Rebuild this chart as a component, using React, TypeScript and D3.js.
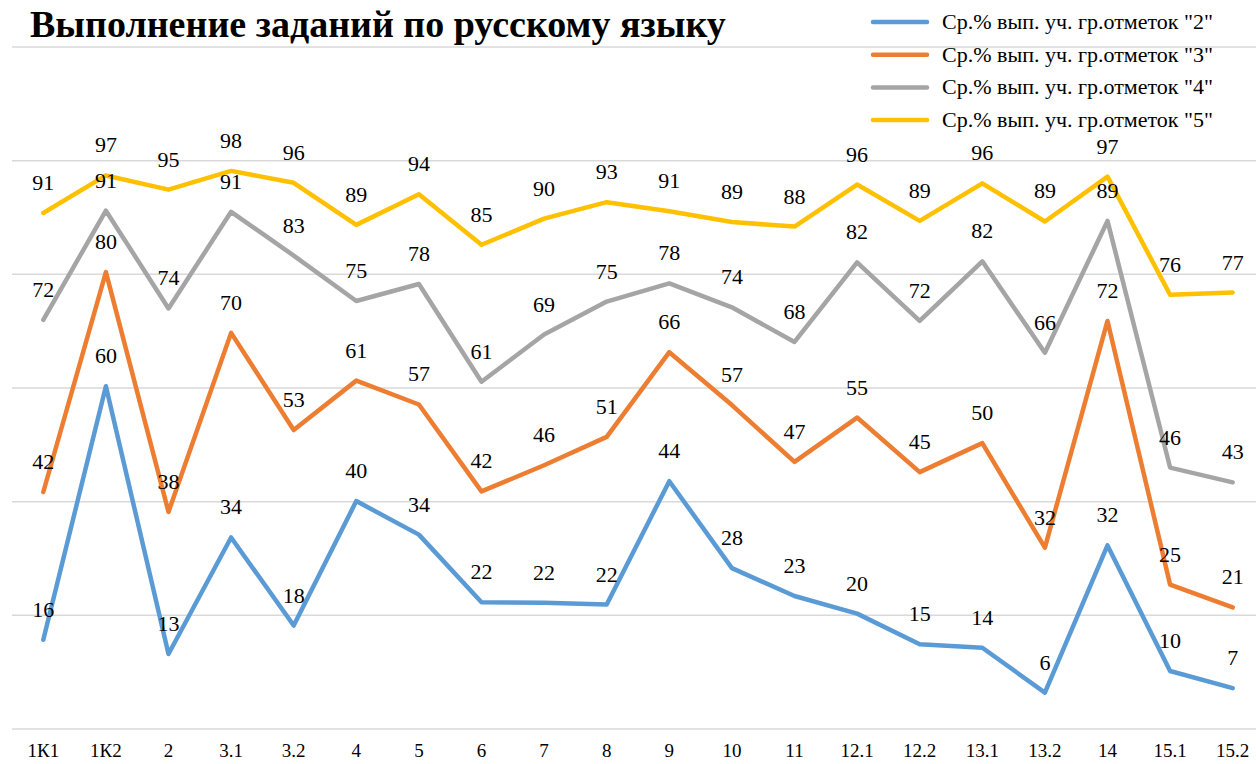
import { useEffect, useRef } from 'react';
import * as d3 from 'd3';

const categories = ['1К1', '1К2', '2', '3.1', '3.2', '4', '5', '6', '7', '8', '9', '10', '11', '12.1', '12.2', '13.1', '13.2', '14', '15.1', '15.2'];

const grade2 = [15.7, 60.3, 13.2, 33.7, 18.2, 40.1, 34.2, 22.3, 22.2, 21.9, 43.6, 28.3, 23.4, 20.3, 14.9, 14.3, 6.4, 32.3, 10.2, 7.2];
const grade3 = [41.7, 80.4, 38.2, 69.7, 52.6, 61.3, 57.1, 41.8, 46.4, 51.4, 66.3, 57.0, 47.0, 54.8, 45.2, 50.3, 31.9, 71.8, 25.4, 21.4];
const grade4 = [72.0, 91.2, 74.0, 91.0, 83.3, 75.3, 78.3, 61.1, 69.4, 75.2, 78.4, 74.2, 68.1, 82.1, 71.8, 82.3, 66.2, 89.4, 46.0, 43.4];
const grade5 = [90.8, 97.4, 94.9, 98.2, 96.1, 88.7, 94.1, 85.2, 89.8, 92.7, 91.1, 89.2, 88.4, 95.8, 89.4, 96.0, 89.3, 97.2, 76.4, 76.8];

const seriesNames = [
  'Ср.% вып. уч. гр.отметок "2"',
  'Ср.% вып. уч. гр.отметок "3"',
  'Ср.% вып. уч. гр.отметок "4"',
  'Ср.% вып. уч. гр.отметок "5"',
];
const colors = ['#5B9BD5', '#ED7D31', '#A5A5A5', '#FFC000'];
const yTicks = [0, 20, 40, 60, 80, 100, 120];

const W = 1256;
const H = 764;
const font = 'Liberation Serif, serif';

export default function App() {
  const ref = useRef<SVGSVGElement>(null);
  const series = [grade2, grade3, grade4, grade5];

  const x = d3.scaleBand<string>().domain(categories).range([12, 1264]);
  const y = d3.scaleLinear().domain([0, 120]).range([729, 47]);
  const cx = (c: string) => (x(c) ?? 0) + x.bandwidth() / 2;

  const line = d3
    .line<number>()
    .x((_, i) => cx(categories[i]))
    .y((d) => y(d));

  // force the serif face on every text node
  useEffect(() => {
    if (ref.current) {
      d3.select(ref.current).selectAll('text').style('font-family', "'Liberation Serif', serif", 'important');
    }
  }, []);

  return (
    <svg ref={ref} width={W} height={H} fontFamily={font} style={{ position: 'absolute', left: 0, top: 0 }}>
      <style>{`svg text { font-family: 'Liberation Serif', serif !important; }`}</style>
      {yTicks.map((t) => (
        <line key={t} x1={12} x2={W} y1={y(t)} y2={y(t)} stroke="#D9D9D9" strokeWidth={1.5} />
      ))}

      <text x={30} y={37} fontSize={38} fontWeight="bold" fill="#000" fontFamily={font}>
        Выполнение заданий по русскому языку
      </text>

      {series.map((s, k) => (
        <path key={k} d={line(s) ?? ''} fill="none" stroke={colors[k]} strokeWidth={4.5} strokeLinejoin="round" strokeLinecap="round" />
      ))}

      {series.map((s, k) =>
        s.map((v, i) => (
          <text key={`${k}-${i}`} x={cx(categories[i])} y={y(v) - 23} textAnchor="middle" fontSize={22} fill="#000" fontFamily={font}>
            {Math.round(v)}
          </text>
        ))
      )}

      {categories.map((c) => (
        <text key={c} x={cx(c)} y={757} textAnchor="middle" fontSize={19} fill="#000" fontFamily={font}>
          {c}
        </text>
      ))}

      {seriesNames.map((n, k) => {
        const ly = 22 + k * 32.7;
        return (
          <g key={n}>
            <line x1={873} x2={927} y1={ly} y2={ly} stroke={colors[k]} strokeWidth={4.5} strokeLinecap="round" />
            <text x={942} y={ly + 7} fontSize={22} fill="#000" fontFamily={font}>
              {n}
            </text>
          </g>
        );
      })}
    </svg>
  );
}
